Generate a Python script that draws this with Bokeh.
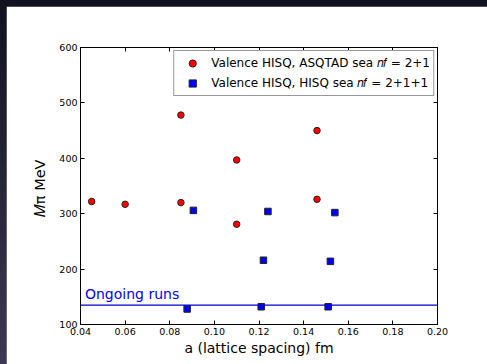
from bokeh.plotting import figure
from bokeh.models import Range1d, LinearAxis, Label, Span, Legend, LegendItem, FixedTicker, Column
from bokeh.embed import file_html
from bokeh.resources import INLINE

# Valence HISQ, ASQTAD sea (nf = 2+1)
asqtad_a = [0.045, 0.060, 0.085, 0.085, 0.110, 0.110, 0.146, 0.146]
asqtad_m = [322, 317, 478, 320, 397, 281, 450, 326]

# Valence HISQ, HISQ sea (nf = 2+1+1)
hisq_a = [0.0906, 0.124, 0.154, 0.122, 0.152, 0.0878, 0.121, 0.151]
hisq_m = [306, 304, 302, 216, 214, 128, 132, 132]

ongoing_level = 135
x_ticks = [0.04, 0.06, 0.08, 0.10, 0.12, 0.14, 0.16, 0.18, 0.20]
y_ticks = [100, 200, 300, 400, 500, 600]

FONT = "DejaVu Sans"

p = figure(width=481, height=358, output_backend="svg", toolbar_location=None,
           x_range=Range1d(0.04, 0.20), y_range=Range1d(100, 600),
           min_border_left=74, min_border_right=50, min_border_top=41, min_border_bottom=40,
           background_fill_color="white", border_fill_color="white")
p.margin = (6, 0, 0, 6)
p.grid.visible = False
p.outline_line_color = "black"
p.outline_line_width = 1

for ax in [p.xaxis[0], p.yaxis[0]]:
    ax.major_tick_in = 4
    ax.major_tick_out = 0
    ax.minor_tick_in = 0
    ax.minor_tick_out = 0
    ax.axis_line_color = "black"
    ax.major_tick_line_color = "black"
    ax.major_label_text_font = FONT
    ax.major_label_text_font_size = "9.5px"
    ax.major_label_text_color = "black"
    ax.major_label_standoff = 3
    ax.axis_label_text_font = FONT
    ax.axis_label_text_font_style = "normal"
    ax.axis_label_text_color = "black"

p.xaxis[0].ticker = FixedTicker(ticks=x_ticks)
p.xaxis[0].major_label_overrides = {t: f"{t:.2f}" for t in x_ticks}
p.yaxis[0].ticker = FixedTicker(ticks=y_ticks)
p.xaxis[0].axis_label = "a (lattice spacing) fm"
p.xaxis[0].axis_label_text_font_size = "14px"
p.xaxis[0].axis_label_standoff = 2
p.yaxis[0].axis_label = "𝑀π  MeV"
p.yaxis[0].axis_label_text_font_size = "14.5px"
p.yaxis[0].axis_label_standoff = 8

top = LinearAxis(ticker=FixedTicker(ticks=x_ticks),
                 major_label_overrides={t: "" for t in x_ticks},
                 major_tick_in=4, major_tick_out=0, minor_tick_in=0, minor_tick_out=0,
                 major_label_standoff=0)
right = LinearAxis(ticker=FixedTicker(ticks=y_ticks),
                   major_label_overrides={t: "" for t in y_ticks},
                   major_tick_in=4, major_tick_out=0, minor_tick_in=0, minor_tick_out=0,
                   major_label_standoff=0)
p.add_layout(top, "above")
p.add_layout(right, "right")

p.add_layout(Span(location=ongoing_level, dimension="width", line_color="#0000cc", line_width=1.2))

r1 = p.scatter(asqtad_a, asqtad_m, marker="circle", size=6.5, fill_color="#ff0000",
               line_color="#222222", line_width=1)
r2 = p.scatter(hisq_a, hisq_m, marker="square", size=6.5, fill_color="#0000ff",
               line_color="#222222", line_width=1)

p.add_layout(Label(x=0.042, y=155, text="Ongoing runs", text_color="#0000ff",
                   text_font=FONT, text_font_size="14px", text_baseline="alphabetic"))

legend = Legend(items=[
    LegendItem(label="Valence HISQ, ASQTAD sea 𝑛𝑓 = 2+1", renderers=[r1]),
    LegendItem(label="Valence HISQ, HISQ sea 𝑛𝑓 = 2+1+1", renderers=[r2]),
], location="top_right")
legend.label_text_font = FONT
legend.label_text_font_size = "12px"
legend.label_text_color = "black"
legend.border_line_color = "#333333"
legend.border_line_width = 1
legend.background_fill_alpha = 1
legend.margin = 3
legend.padding = 3
legend.spacing = 2
legend.label_height = 18
legend.glyph_height = 18
legend.glyph_width = 30
legend.label_standoff = 4
p.add_layout(legend)

layout = Column(children=[p], width=487, height=364,
                styles={"background": "linear-gradient(to bottom, #12111f, #3d3953)"})

open("out.html", "w").write(file_html(layout, INLINE))
